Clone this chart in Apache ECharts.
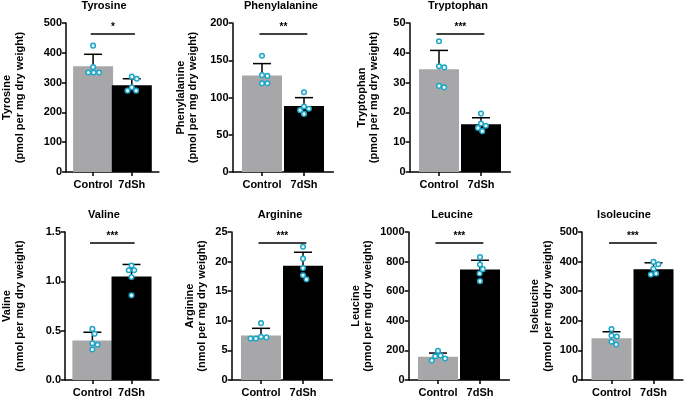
<!DOCTYPE html>
<html>
<head>
<meta charset="utf-8">
<script src="https://cdn.jsdelivr.net/npm/echarts@6/dist/echarts.min.js"></script>
<style>
  html, body { margin: 0; padding: 0; background: #fff; }
  #chart { width: 685px; height: 398px; }
</style>
</head>
<body>
<div id="chart"></div>
<script>
// values
const groups = ['Control', '7dSh'];
const analytes = ['Tyrosine', 'Phenylalanine', 'Tryptophan', 'Valine', 'Arginine', 'Leucine', 'Isoleucine'];
const units = ['pmol', 'pmol', 'pmol', 'nmol', 'nmol', 'pmol', 'pmol'];
const yMax = [500, 200, 50, 1.5, 25, 1000, 500];
const yStep = [100, 50, 10, 0.5, 5, 200, 100];
const controlMean = [355, 129.5, 34.5, 0.40, 7.5, 157, 141];
const controlSd = [40, 16, 6.3, 0.084, 1.23, 25, 22];
const shMean = [291, 88.5, 16.0, 1.049, 19.28, 747, 374];
const shSd = [22, 11.3, 2.2, 0.122, 2.3, 62, 22];
const controlDots = [
  [424, 352, 334, 334, 334],
  [156, 130, 129, 119, 119],
  [43.9, 35.5, 35.1, 28.4, 28.9],
  [0.518, 0.468, 0.373, 0.357, 0.309],
  [9.6, 7.2, 7.0, 7.0, 7.3],
  [197, 165, 160, 145, 132],
  [172, 150, 147, 129, 120]
];
const shDots = [
  [320, 313, 284, 273, 273],
  [107, 88, 85, 83, 78],
  [19.6, 16.3, 15.5, 14.8, 13.7],
  [1.16, 1.113, 1.113, 1.043, 0.858],
  [22.5, 20.5, 18.9, 17.7, 17.0],
  [830, 780, 749, 720, 668],
  [399, 391, 376, 356, 360]
];
const stars = ['*', '**', '***', '***', '***', '***', '***'];

// panel placement (bar-pair centre, plot top, title centre, name gap)
const panels = [
  { cx: 87.5, top: 23, titleX: 104, gap: 40 },
  { cx: 262, top: 23, titleX: 281, gap: 33 },
  { cx: 439, top: 23, titleX: 458, gap: 29 },
  { cx: 87.5, top: 232, titleX: 104, gap: 39 },
  { cx: 261, top: 232, titleX: 280, gap: 23 },
  { cx: 438, top: 232, titleX: 452, gap: 34 },
  { cx: 611.5, top: 232, titleX: 624, gap: 28 }
];

const FONT = 'Liberation Sans';
const unitPx = 42;
const xMin = -0.7, xMax = 1.7;
const plotH = 149;
const dotColor = '#1ea6c8';
const barGrey = '#a7a7a9';
const DOT_D = 5.4;

// simple beeswarm: each dot takes the smallest sideways shift that avoids the ones already placed
function swarm(pts) {
  const placed = [];
  pts.slice().sort((a, b) => a[1] - b[1]).forEach((pt) => {
    const cands = [0];
    placed.forEach((q) => {
      const dy = pt[1] - q[1];
      if (Math.abs(dy) < DOT_D) {
        const dx = Math.sqrt(DOT_D * DOT_D - dy * dy);
        cands.push(q[2] + dx, q[2] - dx);
      }
    });
    cands.sort((a, b) => Math.abs(a) - Math.abs(b) || b - a);
    const off = cands.find((c) => placed.every((q) => {
      const dx = c - q[2], dy = pt[1] - q[1];
      return dx * dx + dy * dy >= DOT_D * DOT_D - 0.01;
    }));
    placed.push([pt[0], pt[1], off]);
  });
  return placed;
}

const grid = [], xAxis = [], yAxis = [], series = [], graphic = [];

analytes.forEach((name, i) => {
  const p = panels[i];
  grid.push({
    left: p.cx - 0.7 * unitPx,
    top: p.top,
    width: (xMax - xMin) * unitPx,
    height: plotH
  });
  xAxis.push({
    gridIndex: i,
    type: 'value',
    min: xMin,
    max: xMax,
    splitLine: { show: false },
    axisLine: { show: true, onZero: false, lineStyle: { color: '#000', width: 1.5 } },
    axisTick: { show: true, customValues: [0, 1], length: 4, lineStyle: { color: '#000', width: 1.5 } },
    axisLabel: {
      customValues: [0, 1],
      formatter: (v) => groups[Math.round(v)],
      color: '#000', fontFamily: FONT, fontWeight: 'bold', fontSize: 11, margin: 7
    }
  });
  yAxis.push({
    gridIndex: i,
    type: 'value',
    min: 0,
    max: yMax[i],
    interval: yStep[i],
    splitLine: { show: false },
    axisLine: { show: true, onZero: false, lineStyle: { color: '#000', width: 1.5 } },
    axisTick: { show: true, length: 4, lineStyle: { color: '#000', width: 1.5 } },
    axisLabel: {
      color: '#000', fontFamily: FONT, fontWeight: 'bold', fontSize: 11, margin: 4,
      formatter: (v) => (yStep[i] < 1 ? v.toFixed(1) : String(v))
    },
    name: name + '\n(' + units[i] + ' per mg dry weight)',
    nameLocation: 'middle',
    nameGap: p.gap,
    nameTextStyle: { color: '#000', fontFamily: FONT, fontWeight: 'bold', fontSize: 11, lineHeight: 12.5 }
  });

  series.push({
    type: 'bar',
    xAxisIndex: i,
    yAxisIndex: i,
    barWidth: 40,
    silent: true,
    data: [
      { value: [0, controlMean[i]], itemStyle: { color: barGrey } },
      { value: [1, shMean[i]], itemStyle: { color: '#000' } }
    ]
  });

  // upward SD whisker with cap
  series.push({
    type: 'custom',
    xAxisIndex: i,
    yAxisIndex: i,
    silent: true,
    z: 3,
    data: [[0, controlMean[i], controlSd[i]], [1, shMean[i], shSd[i]]],
    renderItem: (params, api) => {
      const x = api.value(0), m = api.value(1), sd = api.value(2);
      const base = api.coord([x, m]);
      const top = api.coord([x, m + sd]);
      const style = { stroke: '#000', lineWidth: 1.5 };
      return {
        type: 'group',
        children: [
          { type: 'line', shape: { x1: base[0], y1: base[1], x2: top[0], y2: top[1] }, style },
          { type: 'line', shape: { x1: top[0] - 9, y1: top[1], x2: top[0] + 9, y2: top[1] }, style }
        ]
      };
    }
  });

  // individual animals
  const dotSets = [controlDots[i], shDots[i]];
  series.push({
    type: 'custom',
    xAxisIndex: i,
    yAxisIndex: i,
    silent: true,
    z: 4,
    data: [[0, controlMean[i]], [1, shMean[i]]],
    renderItem: (params, api) => {
      const x = api.value(0);
      const pts = swarm(dotSets[params.dataIndex].map((v) => api.coord([x, v])));
      return {
        type: 'group',
        children: pts.map((pt) => ({
          type: 'circle',
          shape: { cx: pt[0] + pt[2], cy: pt[1], r: 2.3 },
          style: { fill: '#eef9fc', stroke: dotColor, lineWidth: 1.5 }
        }))
      };
    }
  });

  // significance bar
  series.push({
    type: 'custom',
    xAxisIndex: i,
    yAxisIndex: i,
    silent: true,
    z: 5,
    data: [[-0.06, 1.08, yMax[i] * 0.926]],
    renderItem: (params, api) => {
      const a = api.coord([api.value(0), api.value(2)]);
      const b = api.coord([api.value(1), api.value(2)]);
      return {
        type: 'group',
        children: [
          { type: 'line', shape: { x1: a[0], y1: a[1], x2: b[0], y2: b[1] }, style: { stroke: '#000', lineWidth: 1.5 } },
          {
            type: 'text',
            x: (a[0] + b[0]) / 2,
            y: a[1] - 2,
            style: { text: stars[i], textAlign: 'center', textVerticalAlign: 'bottom', font: 'bold 10px ' + FONT, fill: '#000' }
          }
        ]
      };
    }
  });

  graphic.push({
    type: 'text',
    x: p.titleX,
    y: p.top - 17,
    style: { text: name, textAlign: 'center', textVerticalAlign: 'middle', font: 'bold 11px ' + FONT, fill: '#000' }
  });
});

const chart = echarts.init(document.getElementById('chart'));
chart.setOption({
  animation: false,
  backgroundColor: '#fff',
  grid,
  xAxis,
  yAxis,
  series,
  graphic
});
</script>
</body>
</html>
